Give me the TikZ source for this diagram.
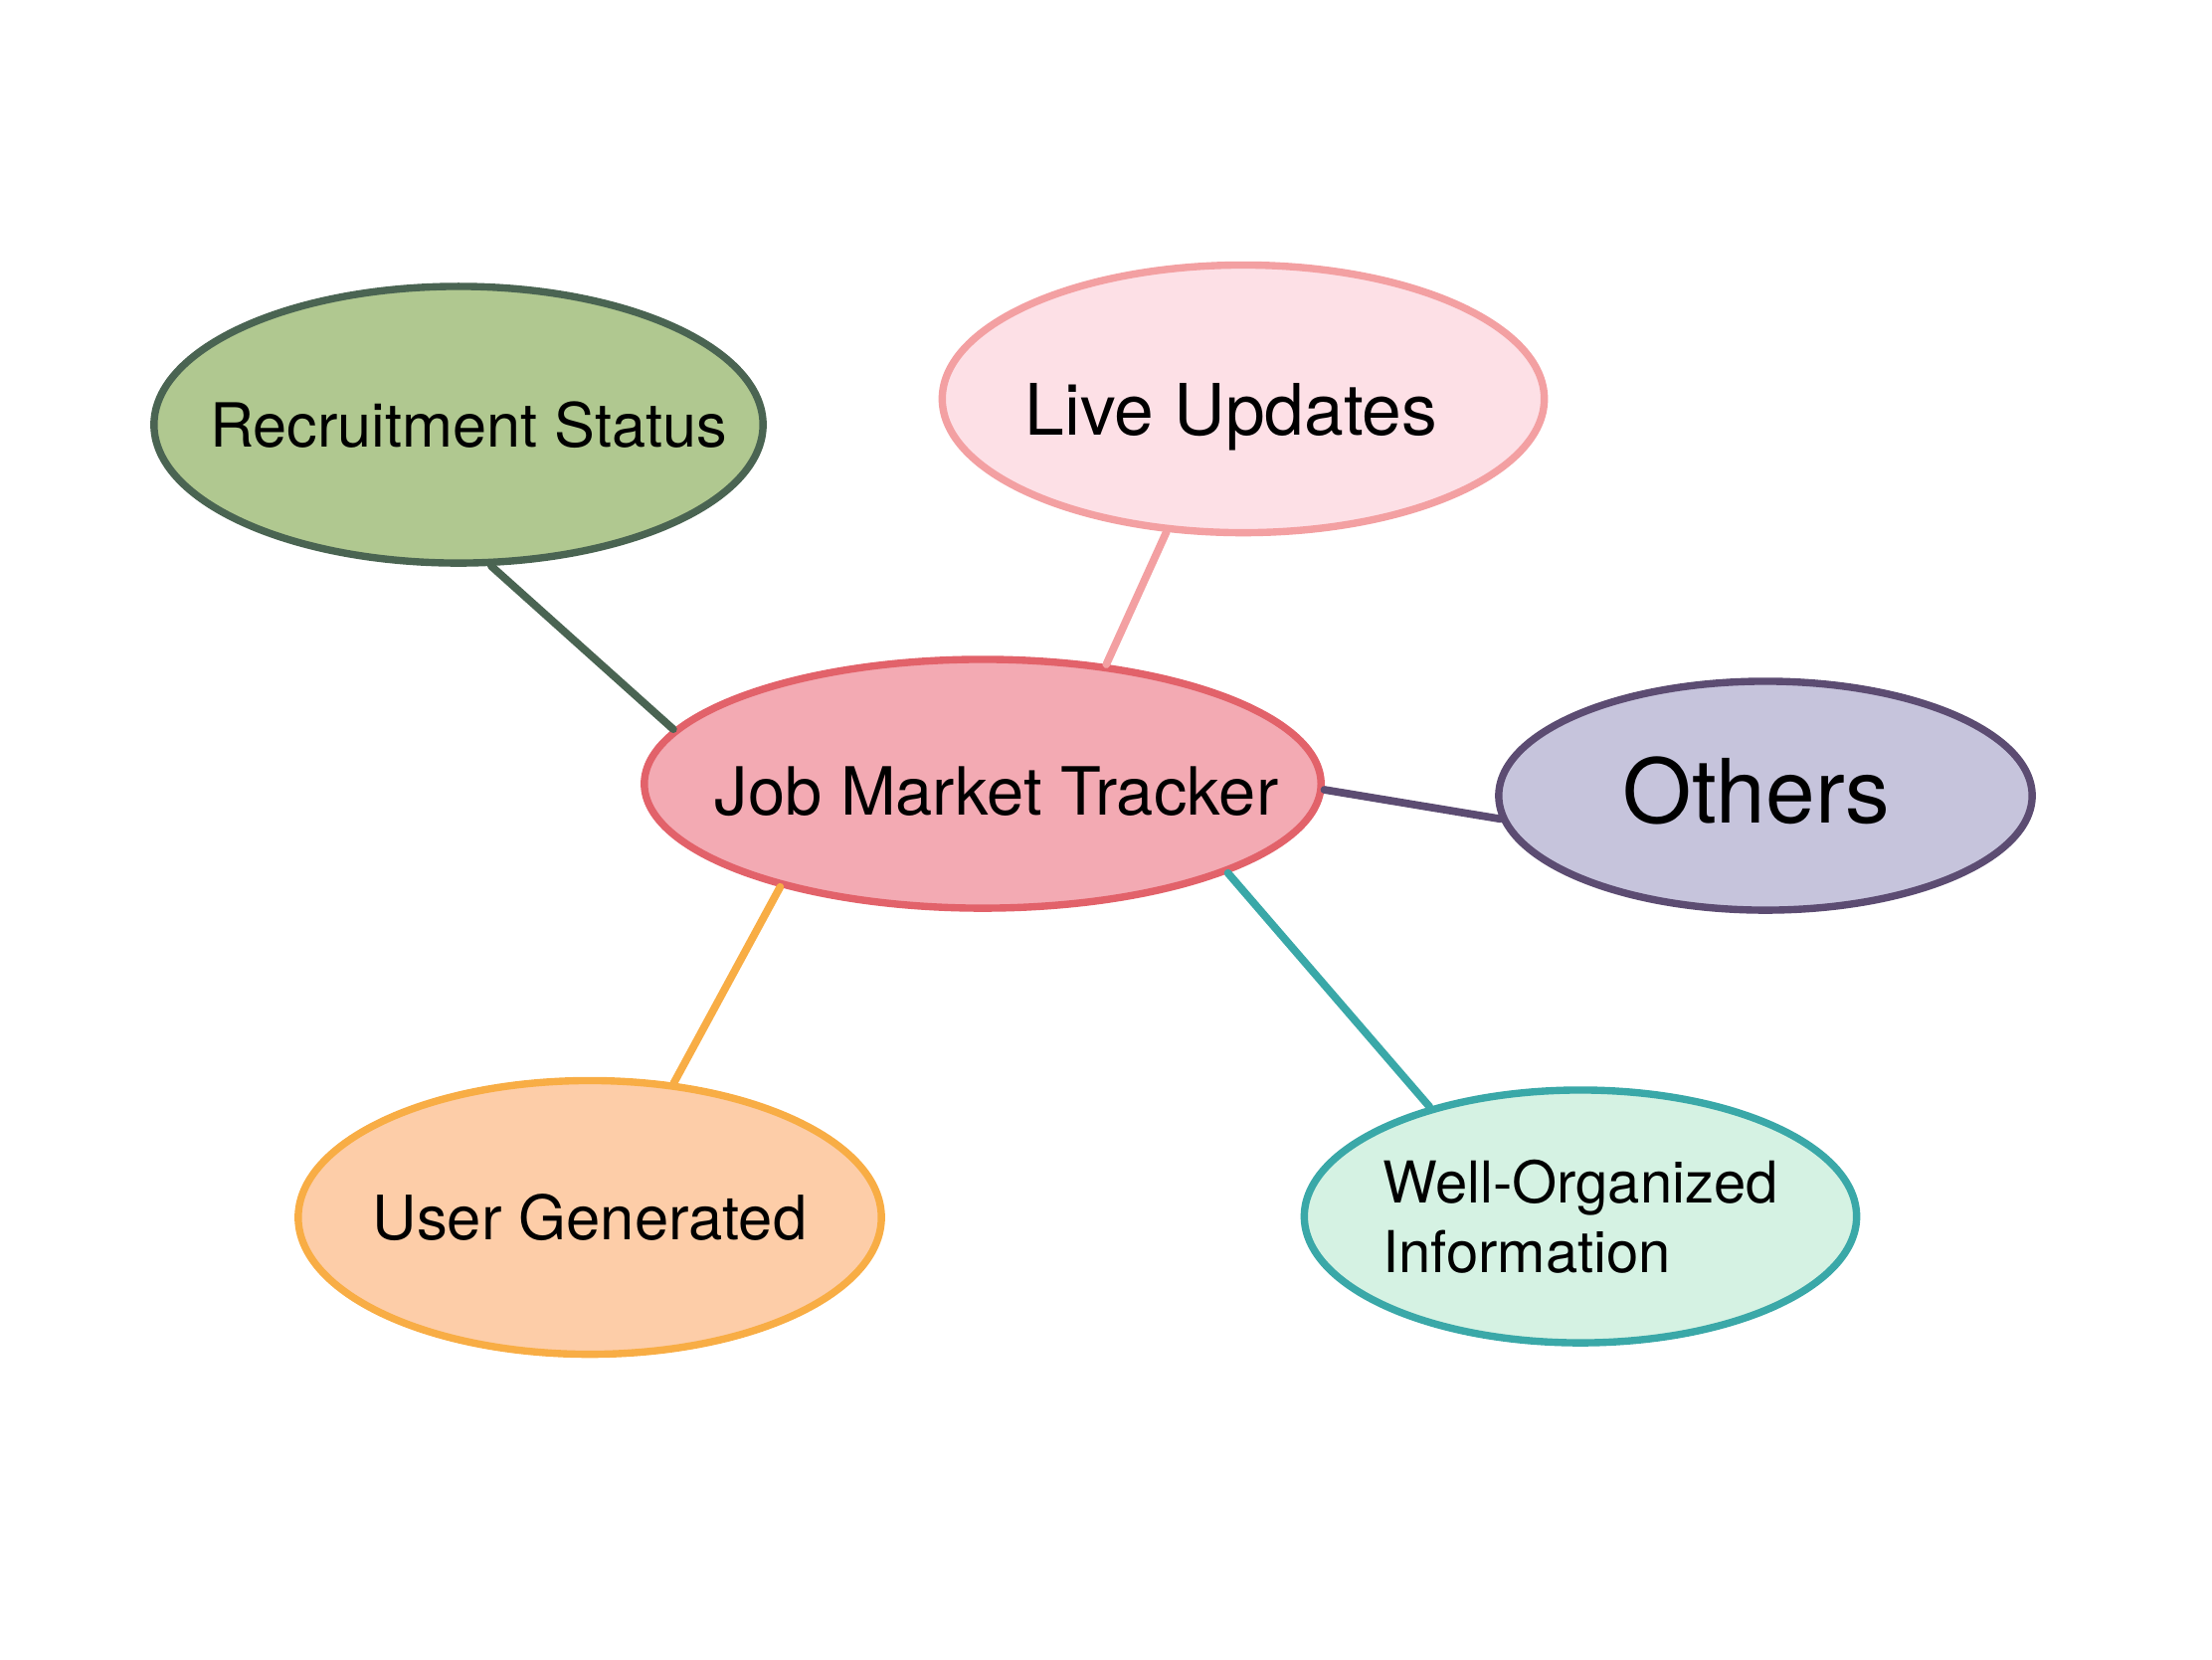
\documentclass[tikz,border=0pt]{standalone}
\usepackage{fontspec}
\setmainfont{TeX Gyre Heros}
\usepackage{tikz}
\usetikzlibrary{shapes.geometric}

\definecolor{recfill}{RGB}{176, 200, 144}
\definecolor{recline}{RGB}{74, 100, 82}
\definecolor{livefill}{RGB}{253, 224, 230}
\definecolor{liveline}{RGB}{243, 160, 162}
\definecolor{jmtfill}{RGB}{243, 170, 179}
\definecolor{jmtline}{RGB}{226, 98, 106}
\definecolor{othfill}{RGB}{198, 196, 220}
\definecolor{othline}{RGB}{92, 76, 114}
\definecolor{usrfill}{RGB}{253, 205, 168}
\definecolor{usrline}{RGB}{248, 173, 69}
\definecolor{wellfill}{RGB}{213, 242, 227}
\definecolor{wellline}{RGB}{58, 168, 168}

\tikzset{
  bubble/.style = {
    ellipse,
    line width  = 2.1pt,
    inner sep   = 0pt
  },
  link/.style = {
    line width  = 2.2pt,
    line cap    = round
  }
}

\begin{document}
\begin{tikzpicture}[x=0.01cm, y=-0.01cm]
  \useasboundingbox (0,0) rectangle (2224,1668);

  % bubbles
  \node[bubble, draw=recline, fill=recfill, minimum width=6.12cm, minimum height=2.78cm,
    label={[font=\fontsize{17.4}{21}\selectfont, xshift=0.1cm]center:Recruitment Status}] (rec) at (461,427) {};
  \node[bubble, draw=liveline, fill=livefill, minimum width=6.05cm, minimum height=2.69cm,
    label={[font=\fontsize{20.3}{24}\selectfont, xshift=-0.12cm, yshift=-0.18cm]center:Live Updates}] (live) at (1250,401) {};
  \node[bubble, draw=jmtline, fill=jmtfill, minimum width=6.80cm, minimum height=2.50cm,
    label={[font=\fontsize{19}{23}\selectfont, xshift=0.14cm, yshift=-0.08cm]center:Job Market Tracker}] (jmt) at (988,788) {};
  \node[bubble, draw=othline, fill=othfill, minimum width=5.36cm, minimum height=2.30cm,
    label={[font=\fontsize{25.4}{30}\selectfont, xshift=-0.09cm, yshift=0.05cm]center:Others}] (oth) at (1775,800) {};
  \node[bubble, draw=usrline, fill=usrfill, minimum width=5.86cm, minimum height=2.75cm,
    label={[font=\fontsize{17.5}{21}\selectfont]center:User Generated}] (usr) at (593,1224) {};
  \node[bubble, draw=wellline, fill=wellfill, minimum width=5.55cm, minimum height=2.54cm,
    label={[font=\fontsize{16.5}{20}\selectfont, align=left]center:Well-Organized\\Information}] (well) at (1589,1223) {};

  % links
  \draw[link, recline]   (rec.-77)  -- (jmt.170);
  \draw[link, liveline]  (live.240) -- (jmt.44);
  \draw[link, othline]   (jmt.-1)   -- (oth.185);
  \draw[link, usrline]   (jmt.207)  -- (usr.58);
  \draw[link, wellline]  (jmt.-20)  -- (well.144);
\end{tikzpicture}
\end{document}
